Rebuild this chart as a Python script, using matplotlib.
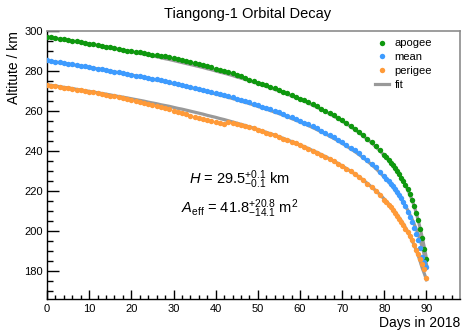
import matplotlib
matplotlib.use("Agg")
import matplotlib.pyplot as plt
from matplotlib.ticker import MultipleLocator

plt.rcParams['font.family'] = ['Liberation Sans', 'DejaVu Sans']
plt.rcParams['mathtext.fontset'] = 'custom'
plt.rcParams['mathtext.rm'] = 'Liberation Sans'
plt.rcParams['mathtext.it'] = 'Liberation Sans:italic'

# days in 2018 (denser sampling during the last days)
days = list(range(81)) + [80.5, 81, 81.5, 82, 82.5, 83, 83.5, 84, 84.5, 85,
                          85.5, 86, 86.5, 87, 87.5, 88, 88.5, 89, 89.5, 90]

apogee = [297.0, 296.7, 296.4, 296.0, 295.7, 295.3, 295.0, 294.7, 294.3, 293.9,
          293.6, 293.2, 292.9, 292.5, 292.1, 291.7, 291.3, 290.9, 290.5, 290.1,
          289.8, 289.5, 289.2, 288.9, 288.5, 288.1, 287.8, 287.5, 287.3, 286.9,
          286.5, 286.0, 285.5, 285.0, 284.4, 283.9, 283.3, 282.8, 282.3, 281.7,
          281.1, 280.5, 279.9, 279.4, 278.7, 278.0, 277.2, 276.4, 275.6, 274.8,
          274.1, 273.4, 272.7, 272.0, 271.2, 270.4, 269.6, 268.7, 267.9, 267.0,
          266.1, 265.2, 264.2, 263.2, 262.2, 261.1, 260.0, 258.9, 257.7, 256.5,
          255.2, 253.9, 252.5, 251.0, 249.5, 247.8, 246.1, 244.2, 242.3, 240.2, 237.9,
          236.8, 235.5, 234.1, 232.8, 231.4, 229.9, 228.3, 226.6, 224.8, 222.9,
          220.8, 218.3, 215.5, 212.5, 209.0, 205.2, 201.0, 196.4, 191.0, 186.0]

mean = [285.2, 284.9, 284.6, 284.2, 283.9, 283.6, 283.2, 282.9, 282.5, 282.2,
        281.8, 281.5, 281.1, 280.8, 280.4, 280.0, 279.6, 279.2, 278.8, 278.5,
        278.1, 277.6, 277.2, 276.8, 276.4, 276.1, 275.7, 275.3, 274.9, 274.5,
        274.0, 273.5, 273.1, 272.6, 272.1, 271.6, 271.1, 270.6, 270.1, 269.5,
        269.0, 268.4, 267.9, 267.3, 266.7, 266.1, 265.4, 264.8, 264.2, 263.5,
        262.8, 262.1, 261.4, 260.7, 259.9, 259.2, 258.4, 257.6, 256.7, 255.9,
        255.0, 254.1, 253.2, 252.2, 251.2, 250.1, 249.1, 247.9, 246.8, 245.6,
        244.3, 243.0, 241.6, 240.2, 238.7, 237.1, 235.4, 233.6, 231.7, 229.6, 227.3,
        226.1, 224.8, 223.6, 222.3, 220.9, 219.4, 217.9, 216.2, 214.5, 212.6,
        209.4, 207.0, 204.5, 201.6, 198.6, 195.2, 191.3, 187.0, 184.3, 182.0]

perigee = [273.0, 272.6, 272.3, 271.9, 271.6, 271.3, 270.9, 270.6, 270.2, 269.9,
           269.5, 269.2, 268.8, 268.4, 268.0, 267.6, 267.2, 266.8, 266.4, 266.0,
           265.5, 265.0, 264.5, 264.0, 263.5, 263.0, 262.4, 261.9, 261.3, 260.7,
           260.1, 259.4, 258.8, 258.2, 257.6, 257.0, 256.4, 255.9, 255.3, 254.8,
           254.3, 253.8, 253.3, 254.3, 254.0, 253.6, 253.0, 252.4, 251.8, 251.2,
           250.5, 249.8, 249.1, 248.4, 247.7, 246.9, 246.1, 245.3, 244.5, 243.7,
           242.8, 241.9, 241.0, 240.0, 239.1, 238.0, 237.0, 235.9, 234.7, 233.6,
           232.3, 231.0, 229.7, 228.3, 226.8, 225.2, 223.5, 221.7, 219.8, 217.8, 215.6,
           214.4, 213.1, 211.8, 210.4, 209.0, 207.5, 206.0, 204.4, 202.8, 201.0,
           199.2, 197.2, 195.2, 193.0, 190.6, 188.3, 186.0, 183.5, 180.8, 176.5]

apogee_fit = [296.8, 296.5, 296.2, 295.8, 295.5, 295.1, 294.8, 294.5, 294.1, 293.7,
              293.4, 293.0, 292.7, 292.3, 291.9, 291.5, 291.1, 290.7, 290.3, 289.9,
              289.5, 289.1, 288.7, 288.3, 287.8, 287.4, 287.0, 286.5, 286.0, 285.6,
              285.1, 284.6, 284.1, 283.6, 283.1, 282.6, 282.1, 281.6, 281.0, 280.5,
              279.9, 279.3, 278.8, 278.2, 277.6, 276.9, 276.3, 275.7, 275.0, 274.3,
              273.6, 272.9, 272.2, 271.5, 270.7, 269.9, 269.1, 268.3, 267.4, 266.6,
              265.7, 264.8, 263.8, 262.8, 261.8, 260.7, 259.6, 258.5, 257.3, 256.1,
              254.8, 253.5, 252.1, 250.6, 249.1, 247.4, 245.7, 243.9, 241.9, 239.9, 237.6,
              236.5, 235.2, 233.9, 232.6, 231.2, 229.7, 228.2, 226.5, 224.8, 222.8,
              220.7, 218.4, 215.8, 212.8, 209.4, 205.5, 201.2, 196.6, 191.6, 186.0]

mean_fit = [285.0, 284.7, 284.4, 284.0, 283.7, 283.4, 283.0, 282.7, 282.3, 282.0,
            281.6, 281.3, 280.9, 280.6, 280.2, 279.8, 279.4, 279.0, 278.6, 278.3,
            277.9, 277.4, 277.0, 276.6, 276.2, 275.8, 275.3, 274.9, 274.4, 274.0,
            273.5, 273.0, 272.6, 272.1, 271.6, 271.1, 270.5, 270.0, 269.5, 268.9,
            268.4, 267.8, 267.3, 266.7, 266.1, 265.5, 264.8, 264.2, 263.6, 262.9,
            262.2, 261.5, 260.8, 260.1, 259.3, 258.6, 257.8, 257.0, 256.1, 255.3,
            254.4, 253.5, 252.6, 251.6, 250.6, 249.5, 248.5, 247.3, 246.2, 245.0,
            243.7, 242.4, 241.0, 239.6, 238.1, 236.5, 234.8, 233.0, 231.1, 229.0, 226.8,
            225.7, 224.4, 223.2, 221.9, 220.5, 219.0, 217.5, 215.9, 214.2, 212.4,
            210.5, 208.4, 206.2, 203.8, 201.2, 198.4, 195.2, 191.7, 187.7, 183.0]

perigee_fit = [273.0, 272.7, 272.4, 272.0, 271.7, 271.4, 271.1, 270.7, 270.4, 270.0,
               269.7, 269.3, 269.0, 268.6, 268.3, 267.9, 267.5, 267.1, 266.8, 266.4,
               266.0, 265.6, 265.2, 264.8, 264.3, 263.9, 263.5, 263.0, 262.6, 262.2,
               261.7, 261.2, 260.8, 260.3, 259.8, 259.3, 258.8, 258.3, 257.7, 257.2,
               256.7, 256.1, 255.6, 255.0, 254.4, 253.8, 253.2, 252.6, 251.9, 251.3,
               250.6, 249.9, 249.2, 248.5, 247.8, 247.0, 246.2, 245.4, 244.6, 243.8,
               242.9, 242.0, 241.1, 240.1, 239.2, 238.1, 237.1, 236.0, 234.8, 233.7,
               232.4, 231.1, 229.8, 228.4, 226.9, 225.3, 223.6, 221.9, 220.0, 218.0, 215.8,
               214.7, 213.5, 212.2, 210.9, 209.6, 208.1, 206.6, 205.1, 203.4, 201.6,
               199.7, 197.7, 195.5, 193.2, 190.6, 187.8, 184.7, 181.3, 178.5, 175.5]

GREEN = '#0e980e'
BLUE = '#3d9bff'
ORANGE = '#ff9a38'
GRAY = '#999999'

fig = plt.figure(figsize=(4.75, 3.32), dpi=100)
ax = fig.add_axes([0.099, 0.100, 0.869, 0.8075])

for fit in (apogee_fit, mean_fit, perigee_fit):
    ax.plot(days, fit, color=GRAY, lw=2.3, zorder=2)

ax.plot(days, apogee, 'o', color=GREEN, ms=3.9, mec='none', zorder=3, label='apogee')
ax.plot(days, mean, 'o', color=BLUE, ms=3.9, mec='none', zorder=3, label='mean')
ax.plot(days, perigee, 'o', color=ORANGE, ms=3.9, mec='none', zorder=3, label='perigee')
ax.plot([], [], color=GRAY, lw=2.3, label='fit')

ax.set_xlim(0, 97.9)
ax.set_ylim(166, 300)
ax.xaxis.set_major_locator(MultipleLocator(10))
ax.xaxis.set_minor_locator(MultipleLocator(2))
ax.yaxis.set_major_locator(MultipleLocator(20))
ax.yaxis.set_minor_locator(MultipleLocator(5))
ax.tick_params(axis='y', which='major', direction='in', length=8.6, width=1, labelsize=8, pad=3)
ax.tick_params(axis='y', which='minor', direction='in', length=4.3, width=1)
ax.tick_params(axis='x', which='major', direction='in', length=6.5, width=1, labelsize=8, pad=4)
ax.tick_params(axis='x', which='minor', direction='in', length=3.2, width=1)

for s in ('top', 'right'):
    ax.spines[s].set_color('#8c8c8c')
    ax.spines[s].set_linewidth(1.2)
for s in ('left', 'bottom'):
    ax.spines[s].set_linewidth(1.0)

fig.text(0.521, 0.957, 'Tiangong-1 Orbital Decay', fontsize=10.5, ha='center', va='center')
ax.set_ylabel('Altitute / km', fontsize=10, loc='top', labelpad=2)
ax.set_xlabel('Days in 2018', fontsize=10, loc='right', labelpad=1)

ax.text(45.7, 225.4, r'$H$ = 29.5$^{+0.1}_{-0.1}$ km', fontsize=10.5, ha='center', va='center')
ax.text(45.7, 211.2, r'$A_{\mathrm{eff}}$ = 41.8$^{+20.8}_{-14.1}$ m$^{2}$', fontsize=10.5,
        ha='center', va='center')

ax.legend(loc='upper left', bbox_to_anchor=(0.775, 1.0), frameon=False, fontsize=8,
          handlelength=1.3, handletextpad=0.5, labelspacing=0.35, markerscale=1.0,
          borderpad=0.2)

fig.savefig('out.png', dpi=100)
